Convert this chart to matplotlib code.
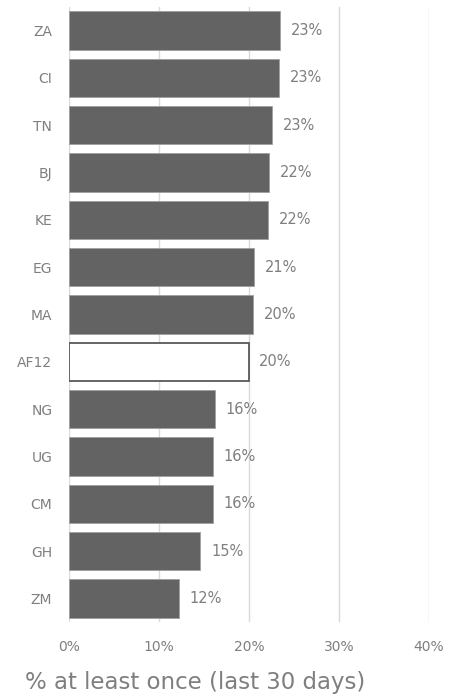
import matplotlib
matplotlib.use("Agg")
import matplotlib.pyplot as plt
from matplotlib.ticker import FuncFormatter

# Share of respondents, at least once in the last 30 days (%)
countries = ["ZA", "CI", "TN", "BJ", "KE", "EG", "MA", "AF12", "NG", "UG", "CM", "GH", "ZM"]
values = [23.4, 23.3, 22.6, 22.2, 22.1, 20.6, 20.4, 19.95, 16.2, 15.95, 15.95, 14.6, 12.2]
average_label = "AF12"
x_ticks = [0, 10, 20, 30, 40]

text_grey = "#7f7f7f"
bar_grey = "#636363"

fig = plt.figure(figsize=(4.57, 6.97), dpi=100)
ax = fig.add_axes([69 / 457, (697 - 622) / 697, (429 - 69) / 457, (622 - 7) / 697])

positions = list(range(len(countries)))
faces = ["white" if c == average_label else bar_grey for c in countries]
edges = ["#595959" if c == average_label else "#a0a0a0" for c in countries]
widths = [1.3 if c == average_label else 0.6 for c in countries]

ax.barh(positions, values, height=0.81, color=faces, edgecolor=edges,
        linewidth=widths, zorder=3)

for pos, val in zip(positions, values):
    ax.text(val + 1.2, pos, f"{val:.0f}%", va="center", ha="left",
            fontsize=10.5, color=text_grey)

ax.set_xlim(0, 40)
ax.set_ylim(len(countries) - 0.5, -0.5)
ax.set_yticks(positions)
ax.set_yticklabels(countries)
ax.set_xticks(x_ticks)
ax.xaxis.set_major_formatter(FuncFormatter(lambda v, _: f"{v:.0f}%"))

ax.grid(axis="x", color="#d9d9d9", linewidth=1.0, zorder=0)
for side in ax.spines.values():
    side.set_visible(False)
ax.tick_params(axis="both", length=0, colors=text_grey, labelsize=10)
ax.tick_params(axis="y", pad=12)
ax.tick_params(axis="x", pad=13)

xl = ax.set_xlabel("% at least once (last 30 days)", fontsize=16.5, color=text_grey)
xl.set_verticalalignment("center")
ax.xaxis.set_label_coords(0.35, -60 / 615)

fig.savefig("out.png", dpi=100)
